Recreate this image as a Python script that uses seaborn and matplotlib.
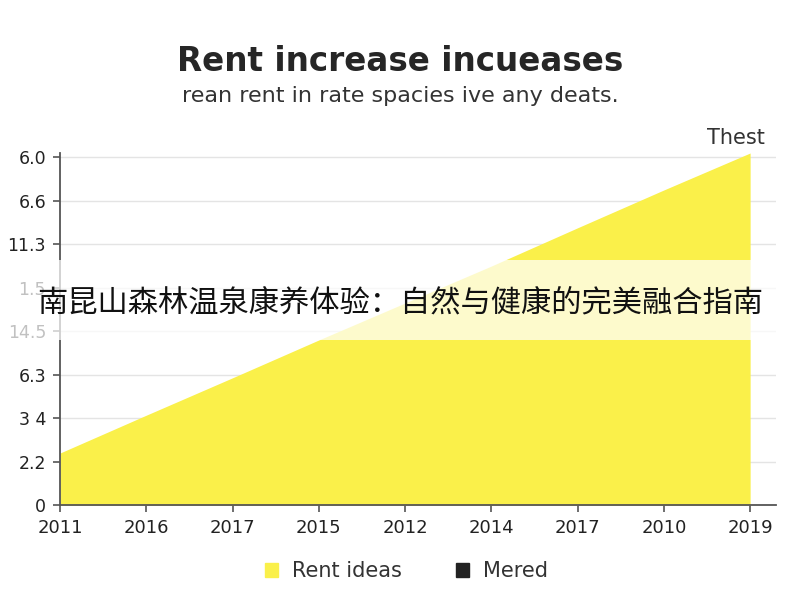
import matplotlib
matplotlib.use("Agg")
import matplotlib.pyplot as plt
import seaborn as sns
import pandas as pd
from matplotlib.patches import Patch, Rectangle

# ---- data ----
x_labels = ["2011", "2016", "2017", "2015", "2012", "2014", "2017", "2010", "2019"]
y_labels = ["0", "2.2", "3 4", "6.3", "14.5", "1.5", "11.3", "6.6", "6.0"]
rent_ideas = [1.2, 2.07, 2.93, 3.8, 4.65, 5.5, 6.38, 7.25, 8.1]
series_names = ["Rent ideas", "Mered"]
title = "Rent increase incueases"
subtitle = "rean rent in rate spacies ive any deats."
annotation = "Thest"
overlay = "南昆山森林温泉康养体验：自然与健康的完美融合指南"

YELLOW = "#FAF04A"

sns.set_theme(style="whitegrid")
plt.rcParams["font.family"] = ["DejaVu Sans", "Noto Sans CJK SC"]

df = pd.DataFrame({"pos": list(range(len(x_labels))), "value": rent_ideas})

fig = plt.figure(figsize=(8, 6), dpi=100)
ax = fig.add_axes([0.075, 0.158, 0.895, 0.587])

sns.lineplot(data=df, x="pos", y="value", ax=ax, color=YELLOW, linewidth=0)
ax.fill_between(df["pos"], 0, df["value"], color=YELLOW, linewidth=0, zorder=2)

ax.set_xlim(0, 8.3)
ax.set_ylim(0, 8.1)
ax.set_xticks(range(len(x_labels)))
ax.set_xticklabels(x_labels, fontsize=13, color="#222222")
ax.set_yticks(range(len(y_labels)))
ax.set_yticklabels(y_labels, fontsize=12.5, color="#222222")
ax.set_xlabel("")
ax.set_ylabel("")

ax.grid(axis="y", color="#e4e4e4", linewidth=1)
ax.grid(axis="x", visible=False)
ax.set_axisbelow(True)
ax.set_facecolor("white")
for s in ["top", "right"]:
    ax.spines[s].set_visible(False)
for s in ["left", "bottom"]:
    ax.spines[s].set_visible(True)
    ax.spines[s].set_color("#555555")
    ax.spines[s].set_linewidth(1.3)
ax.tick_params(axis="both", which="both", length=5, width=1.2, color="#555555",
               left=True, bottom=True, pad=5)

fig.text(0.5, 0.897, title, ha="center", va="center", fontsize=23.5,
         fontweight="bold", color="#262626")
fig.text(0.5, 0.84, subtitle, ha="center", va="center", fontsize=16,
         color="#333333")
fig.text(0.92, 0.77, annotation, ha="center", va="center", fontsize=15,
         color="#333333")

handles = [Patch(facecolor=YELLOW, edgecolor=YELLOW),
           Patch(facecolor="#222222", edgecolor="#222222")]
fig.legend(handles, series_names, loc="center", bbox_to_anchor=(0.508, 0.048),
           ncol=2, frameon=False, fontsize=15, handlelength=0.65, handleheight=0.65,
           columnspacing=2.6, handletextpad=0.65, labelcolor="#333333")

band = Rectangle((0, 1 - 340 / 600), 1, 80 / 600, transform=fig.transFigure,
                 facecolor="white", alpha=0.72, edgecolor="none", zorder=10)
fig.patches.append(band)
fig.text(0.5, 1 - 303 / 600, overlay, ha="center", va="center", fontsize=21.8,
         color="#111111", family=["Noto Sans CJK SC", "DejaVu Sans"], zorder=11)

fig.savefig("out.png", dpi=100)
